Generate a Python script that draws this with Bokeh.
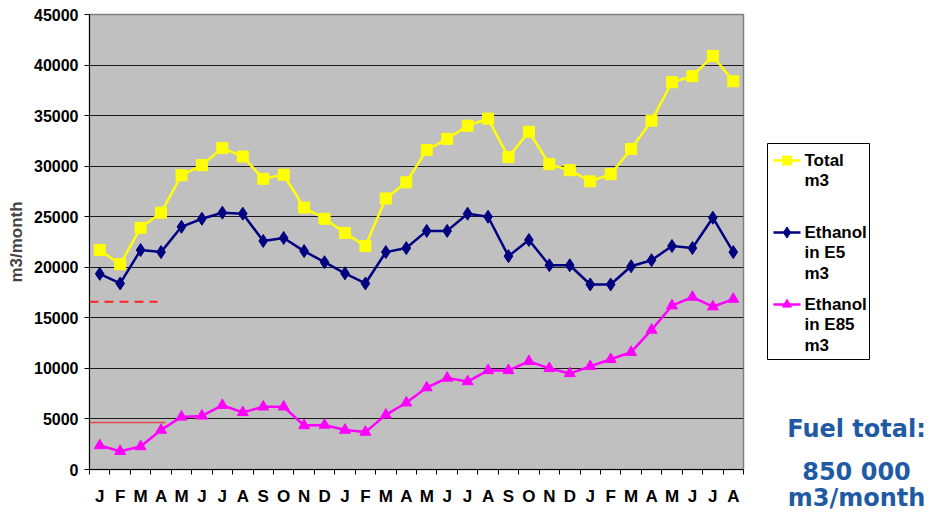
from bokeh.plotting import figure
from bokeh.models import Range1d, FixedTicker
from bokeh.layouts import row, column
from bokeh.core.properties import value
from bokeh.embed import file_html
from bokeh.resources import INLINE

months = ["J", "F", "M", "A", "M", "J", "J", "A", "S", "O", "N", "D"] * 2 + ["J", "F", "M", "A", "M", "J", "J", "A"]

total_m3 = [21700, 20300, 23900, 25400, 29100, 30100, 31800, 30950, 28750, 29150, 25900, 24800,
            23400, 22100, 26800, 28400, 31600, 32700, 34000, 34700, 30900, 33400, 30200, 29600,
            28500, 29200, 31700, 34500, 38300, 38900, 40900, 38400]
ethanol_e5 = [19350, 18400, 21700, 21500, 24000, 24800, 25400, 25300, 22600, 22900, 21600, 20500,
              19400, 18400, 21500, 21900, 23600, 23600, 25300, 25000, 21100, 22700, 20200, 20200,
              18300, 18300, 20100, 20700, 22100, 21900, 24900, 21500]
ethanol_e85 = [2370, 1800, 2270, 3900, 5200, 5300, 6350, 5650, 6200, 6200, 4350, 4400,
               3900, 3700, 5400, 6600, 8100, 9050, 8700, 9800, 9800, 10700, 10000, 9500,
               10200, 10900, 11600, 13800, 16200, 17050, 16100, 16850]

y_ticks = [0, 5000, 10000, 15000, 20000, 25000, 30000, 35000, 40000, 45000]
grid_ticks = [5000, 10000, 15000, 20000, 25000, 30000, 35000, 40000]

# red reference marks on the left of the chart (value, end position in months)
dashed_mark = (16600, 3.33)
solid_mark = (4650, 3.72)

series_labels = ["Total\nm3", "Ethanol\nin E5\nm3", "Ethanol\nin E85\nm3"]
series_colors = ["#FFFF00", "#000080", "#FF00FF"]
series_markers = ["square", "diamond", "triangle"]
series_sizes = [11, 13, 11]
series_values = [total_m3, ethanol_e5, ethanol_e85]

note_lines = ["Fuel total:", "850 000", "m3/month"]

n = len(months)
xs = [i + 0.5 for i in range(n)]

p = figure(width=753, height=508, output_backend="svg", toolbar_location=None,
           x_range=Range1d(0, n), y_range=Range1d(0, 45000),
           min_border_left=89, min_border_right=10, min_border_top=14, min_border_bottom=38)
p.background_fill_color = "#C0C0C0"
p.border_fill_color = "white"
p.outline_line_color = "#808080"
p.outline_line_width = 1.5

p.xgrid.visible = False
p.ygrid.ticker = FixedTicker(ticks=grid_ticks)
p.ygrid.grid_line_color = "#1a1a1a"
p.ygrid.grid_line_width = 1

# axes
p.xaxis.ticker = FixedTicker(ticks=xs, minor_ticks=list(range(n + 1)))
p.xaxis.major_label_overrides = {x: m for x, m in zip(xs, months)}
p.xaxis.major_tick_line_color = None
p.xaxis.minor_tick_line_color = "black"
p.xaxis.minor_tick_out = 5
p.xaxis.minor_tick_in = 0
p.xaxis.major_label_standoff = 11
p.xaxis.major_label_text_font = "Liberation Sans"
p.xaxis.major_label_text_font_style = "bold"
p.xaxis.major_label_text_font_size = "17px"
p.xaxis.major_label_text_color = "black"
p.xaxis.axis_line_color = "black"

p.yaxis.ticker = FixedTicker(ticks=y_ticks)
p.yaxis.minor_tick_line_color = None
p.yaxis.major_tick_out = 5
p.yaxis.major_tick_in = 0
p.yaxis.major_label_standoff = 6
p.yaxis.major_label_text_font = "Liberation Sans"
p.yaxis.major_label_text_font_style = "bold"
p.yaxis.major_label_text_font_size = "16px"
p.yaxis.major_label_text_color = "black"
p.yaxis.axis_line_color = "black"
p.yaxis.axis_label = "m3/month"
p.yaxis.axis_label_text_font = "Liberation Sans"
p.yaxis.axis_label_text_font_style = "bold"
p.yaxis.axis_label_text_font_size = "17px"
p.yaxis.axis_label_standoff = 5

# red marks
p.line(x=[0, dashed_mark[1]], y=[dashed_mark[0], dashed_mark[0]], line_color="#FF2020",
       line_width=2, line_dash="9 6")
p.line(x=[0, solid_mark[1]], y=[solid_mark[0], solid_mark[0]], line_color="#E04848",
       line_width=1.5)

for vals, col, mk, sz in zip(series_values, series_colors, series_markers, series_sizes):
    p.line(x=xs, y=vals, line_color=col, line_width=2.5)
    p.scatter(x=xs, y=vals, marker=mk, size=sz, fill_color=col, line_color=col)

# legend + side text panel (coordinates in page pixels, y downwards)
q = figure(width=176, height=514, output_backend="svg", toolbar_location=None,
           x_range=Range1d(0, 176), y_range=Range1d(514, 0),
           min_border=0, x_axis_location=None, y_axis_location=None)
q.grid.visible = False
q.outline_line_color = None
q.background_fill_color = "white"
q.border_fill_color = "white"

q.quad(left=[14], right=[116], top=[143], bottom=[359], fill_color="white",
       line_color="black", line_width=1)
legend_rows = [160, 232, 304]
for yy, lab, col, mk, sz in zip(legend_rows, series_labels, series_colors, series_markers, series_sizes):
    q.line(x=[20, 47], y=[yy, yy], line_color=col, line_width=2.5)
    q.scatter(x=[33.5], y=[yy], marker=mk, size=sz - 2, fill_color=col, line_color=col)
    q.text(x=[51], y=[yy - 10], text=[lab], text_font=value("Liberation Sans"),
           text_font_style="bold", text_font_size="17px", text_color="black",
           text_baseline="top", text_align="left", text_line_height=1.08)

note_y = [428, 471, 497]
q.text(x=[103, 103, 103], y=note_y, text=note_lines, text_font=value("DejaVu Sans"),
       text_font_style="bold", text_font_size="24px", text_color="#1F5BA5",
       text_baseline="middle", text_align="center")

layout = row(p, column(q))
open("out.html", "w").write(file_html(layout, INLINE))
